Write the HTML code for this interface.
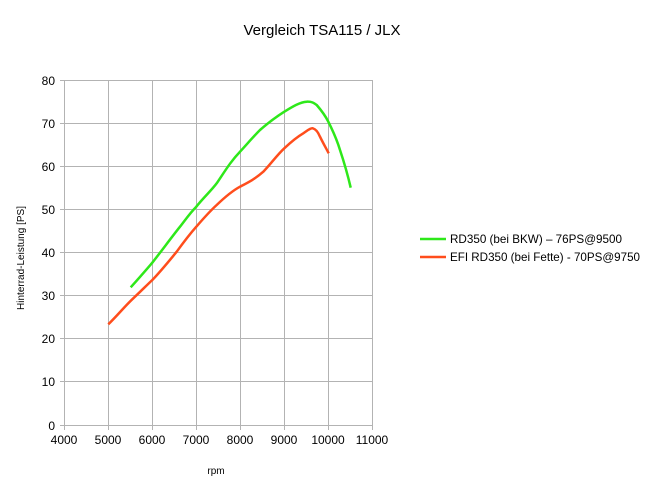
<!DOCTYPE html><html><head><style>body{margin:0;background:#fff}</style></head><body>
<svg width="645" height="485" xmlns="http://www.w3.org/2000/svg" font-family="Liberation Sans, sans-serif">
<rect width="645" height="485" fill="#fff"/>
<text x="322" y="35" font-size="15" text-anchor="middle">Vergleich TSA115 / JLX</text>
<g stroke="#b3b3b3" stroke-width="1">
<line x1="64.5" y1="80" x2="64.5" y2="425"/><line x1="108.5" y1="80" x2="108.5" y2="425"/><line x1="152.5" y1="80" x2="152.5" y2="425"/><line x1="196.5" y1="80" x2="196.5" y2="425"/><line x1="240.5" y1="80" x2="240.5" y2="425"/><line x1="284.5" y1="80" x2="284.5" y2="425"/><line x1="328.5" y1="80" x2="328.5" y2="425"/><line x1="372.5" y1="80" x2="372.5" y2="425"/>
<line x1="60" y1="80.5" x2="372" y2="80.5"/><line x1="60" y1="123.5" x2="372" y2="123.5"/><line x1="60" y1="166.5" x2="372" y2="166.5"/><line x1="60" y1="209.5" x2="372" y2="209.5"/><line x1="60" y1="252.5" x2="372" y2="252.5"/><line x1="60" y1="295.5" x2="372" y2="295.5"/><line x1="60" y1="338.5" x2="372" y2="338.5"/><line x1="60" y1="381.5" x2="372" y2="381.5"/><line x1="60" y1="425.5" x2="372" y2="425.5"/>
<line x1="64.5" y1="425" x2="64.5" y2="430"/><line x1="108.5" y1="425" x2="108.5" y2="430"/><line x1="152.5" y1="425" x2="152.5" y2="430"/><line x1="196.5" y1="425" x2="196.5" y2="430"/><line x1="240.5" y1="425" x2="240.5" y2="430"/><line x1="284.5" y1="425" x2="284.5" y2="430"/><line x1="328.5" y1="425" x2="328.5" y2="430"/><line x1="372.5" y1="425" x2="372.5" y2="430"/>
</g>
<g font-size="12" text-anchor="end">
<text x="55" y="85">80</text><text x="55" y="128">70</text><text x="55" y="171">60</text><text x="55" y="214">50</text><text x="55" y="257">40</text><text x="55" y="300">30</text><text x="55" y="343">20</text><text x="55" y="386">10</text><text x="55" y="430">0</text>
</g>
<g font-size="12" text-anchor="middle">
<text x="64" y="444">4000</text><text x="108" y="444">5000</text><text x="152" y="444">6000</text><text x="196" y="444">7000</text><text x="240" y="444">8000</text><text x="284" y="444">9000</text><text x="328" y="444">10000</text><text x="372" y="444">11000</text>
</g>
<text x="216" y="474" font-size="10" text-anchor="middle">rpm</text>
<text transform="translate(24,258) rotate(-90)" font-size="10" text-anchor="middle">Hinterrad-Leistung [PS]</text>
<path d="M130.7,287.3 C140,277 146,270 152.3,262.7 C163,249 171,238 180,226.7 C186,219 190,213 196.3,206.7 C204,197 211,191 216.7,183.3 C225,171 231,161 240,151.7 C248,143 253,137 260,130 C268,123 276,117 284.3,111.7 C292,107 300,102 306.7,101.7 C312,101.5 314,103 316.7,105 C321,110 325,115 328.3,121.7 C333,131 337,140 340,150 C345,165 348,176 350.7,187.7" fill="none" stroke="#2ee81a" stroke-width="2.5"/>
<path d="M108.3,324.3 C117,316 125,306 133.3,298.3 C140,292 146,286 152.3,280 C161,271 169,261 176.7,251.7 C183,243 189,235 196.3,226.7 C203,219 209,212 216.7,205 C224,198 232,191 240,186.7 C249,182 255,179 263.3,171.7 C270,165 277,155 284.3,148.3 C291,142 297,137 303.3,133.3 C307,131 310,128 312.7,128.3 C316,129 318,132 320,136.7 C323,143 326,148 328.7,153.3" fill="none" stroke="#ff4d1c" stroke-width="2.5"/>
<line x1="420" y1="239" x2="446" y2="239" stroke="#2ee81a" stroke-width="2.5"/>
<text x="450" y="243" font-size="12" textLength="172" lengthAdjust="spacingAndGlyphs">RD350 (bei BKW) – 76PS@9500</text>
<line x1="420" y1="257" x2="446" y2="257" stroke="#ff4d1c" stroke-width="2.5"/>
<text x="450" y="261" font-size="12" textLength="190" lengthAdjust="spacingAndGlyphs">EFI RD350 (bei Fette) - 70PS@9750</text>
</svg>
</body></html>
